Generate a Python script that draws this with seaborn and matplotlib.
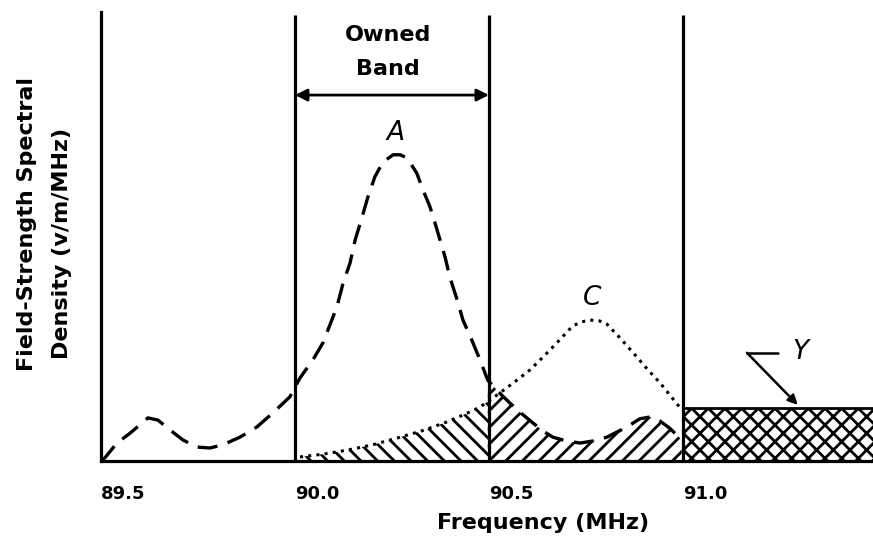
import numpy as np
import matplotlib
matplotlib.use("Agg")
import matplotlib.pyplot as plt
import seaborn as sns

# curve A (dashed)
freq_a = [89.500, 89.510, 89.541, 89.575, 89.621, 89.647, 89.678, 89.711, 89.747, 89.781,
          89.814, 89.858, 89.902, 89.943, 89.987, 90.013, 90.046, 90.072, 90.090, 90.108,
          90.124, 90.142, 90.155, 90.173, 90.188, 90.206, 90.227, 90.253, 90.271, 90.289,
          90.314, 90.330, 90.348, 90.361, 90.374, 90.387, 90.399, 90.418, 90.433, 90.456,
          90.477, 90.497, 90.528, 90.554, 90.585, 90.613, 90.639, 90.665, 90.698, 90.735,
          90.771, 90.804, 90.856, 90.889, 90.915, 90.941, 90.966, 90.997]
dens_a = [0.0, 0.7, 4.0, 6.2, 9.6, 9.1, 6.9, 4.7, 3.1, 2.9,
          3.6, 5.3, 7.6, 10.7, 14.3, 18.5, 22.5, 26.3, 30.3, 34.3,
          39.6, 44.1, 49.2, 54.3, 58.8, 63.3, 66.6, 68.2, 68.2, 67.5,
          64.1, 60.4, 56.6, 53.0, 49.2, 45.4, 41.0, 35.9, 31.4, 26.9,
          22.5, 18.0, 15.1, 12.9, 10.5, 8.5, 6.7, 5.3, 4.5, 4.0,
          4.5, 5.3, 7.6, 9.4, 9.8, 8.9, 7.3, 4.7]

# curve C (dotted)
freq_c = [90.013, 90.070, 90.134, 90.200, 90.263, 90.330, 90.392, 90.440, 90.477, 90.503,
          90.546, 90.575, 90.606, 90.640, 90.675, 90.716, 90.740, 90.760, 90.785, 90.804,
          90.838, 90.881, 90.910, 90.941, 90.970, 90.997]
dens_c = [0.9, 1.5, 2.4, 3.6, 5.1, 6.8, 8.7, 10.5, 12.0, 13.6,
          16.3, 18.2, 20.3, 23.2, 26.3, 30.1, 31.0, 31.4, 31.2, 30.5,
          27.4, 23.2, 20.3, 17.4, 14.3, 11.4]

band_edges = [90.0, 90.5, 91.0]
crossing = 90.523      # where A drops under C
y_level = 11.8         # flat block Y above 91.0 MHz
tick_vals = [89.5, 90.0, 90.5, 91.0]
tick_labels = ["89.5", "90.0", "90.5", "91.0"]

sns.set_style("white")
plt.rcParams["font.family"] = ["DejaVu Sans"]
plt.rcParams["text.color"] = "black"
plt.rcParams["xtick.color"] = "black"
plt.rcParams["hatch.linewidth"] = 2.0

fig = plt.figure(figsize=(8.73, 5.44), dpi=100)
ax = fig.add_axes([101 / 873, 83 / 544, 772 / 873, 449 / 544])

sns.lineplot(x=freq_a, y=dens_a, ax=ax, color="black", lw=2.4)
ax.lines[-1].set_dashes((6, 3.2))
sns.lineplot(x=freq_c, y=dens_c, ax=ax, color="black", lw=2.2)
ax.lines[-1].set_dashes((1, 1.7))

# hatched overlap regions
fa = np.array(freq_a)
fc = np.array(freq_c)
mc = fc <= crossing
ax.fill_between(fc[mc], 0, np.array(dens_c)[mc], facecolor="none", edgecolor="black",
                hatch="\\\\", lw=0)
ma = (fa >= crossing - 0.03) & (fa <= 91.0)
ax.fill_between(fa[ma], 0, np.array(dens_a)[ma], facecolor="none", edgecolor="black",
                hatch="//", lw=0)

# Y block
ax.fill_between([91.0, 91.5], 0, y_level, facecolor="none", edgecolor="black",
                hatch="xx", lw=0)
ax.plot([91.0, 91.5], [y_level, y_level], color="black", lw=2)

for f in band_edges:
    ax.plot([f, f], [0, 99.3], color="black", lw=2.3, solid_capstyle="butt")

ax.annotate("", xy=(90.0, 81.5), xytext=(90.5, 81.5),
            arrowprops=dict(arrowstyle="<|-|>", color="black", lw=2, mutation_scale=18,
                            shrinkA=0, shrinkB=0))
ax.text(90.24, 94.9, "Owned", ha="center", va="center", fontsize=16, fontweight="bold")
ax.text(90.24, 87.3, "Band", ha="center", va="center", fontsize=16, fontweight="bold")

ax.text(90.258, 73.1, "A", ha="center", va="center", fontsize=19, style="italic")
ax.text(90.765, 36.3, "C", ha="center", va="center", fontsize=19, style="italic")
ax.text(91.302, 24.3, "Y", ha="center", va="center", fontsize=19, style="italic")
ax.plot([91.245, 91.165], [24.1, 24.1], color="black", lw=1.8)
ax.annotate("", xy=(91.296, 12.5), xytext=(91.165, 24.1),
            arrowprops=dict(arrowstyle="-|>", color="black", lw=1.8, mutation_scale=14,
                            shrinkA=0, shrinkB=0))

ax.set_xlim(89.5, 91.49)
ax.set_ylim(0, 100)
ax.set_xticks(tick_vals)
ax.set_xticklabels(tick_labels, fontsize=13, fontweight="bold", ha="left")
ax.set_yticks([])
ax.tick_params(axis="x", length=0, pad=17)
for s in ["top", "right"]:
    ax.spines[s].set_visible(False)
for s in ["left", "bottom"]:
    ax.spines[s].set_linewidth(2.3)
    ax.spines[s].set_color("black")

fig.text(543 / 873, 1 - 523 / 544, "Frequency (MHz)", ha="center", va="center",
         fontsize=16, fontweight="bold")
fig.text(27 / 873, 1 - 224 / 544, "Field-Strength Spectral", ha="center", va="center",
         rotation=90, fontsize=16, fontweight="bold")
fig.text(62 / 873, 1 - 243 / 544, "Density (v/m/MHz)", ha="center", va="center",
         rotation=90, fontsize=16, fontweight="bold")

fig.savefig("out.png", dpi=100)
